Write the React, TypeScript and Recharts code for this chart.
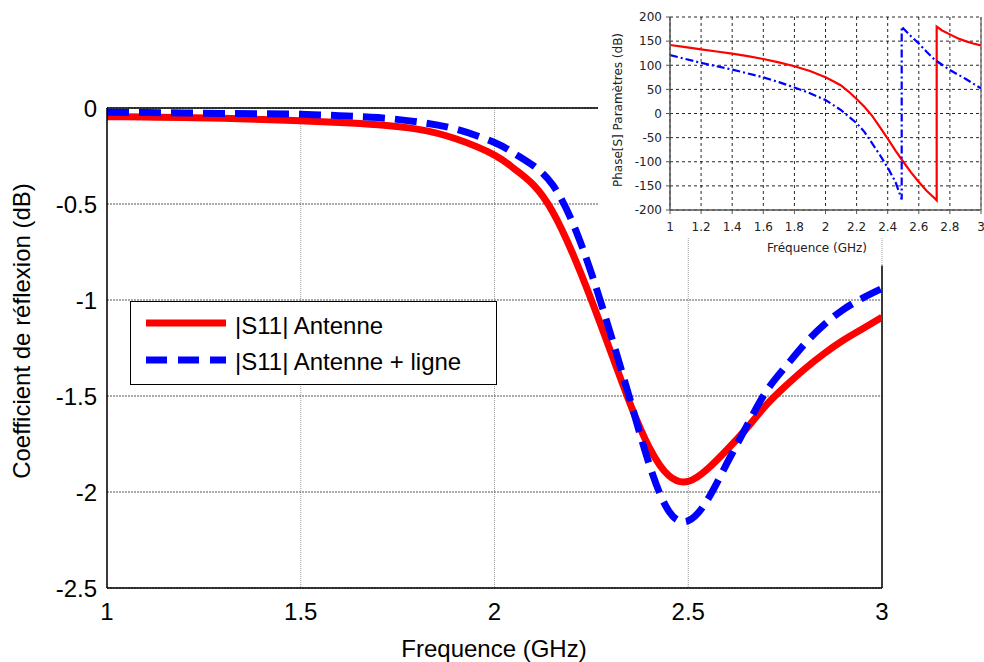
import { LineChart, Line, XAxis, YAxis, CartesianGrid, ReferenceLine, Legend, Label } from 'recharts';

// main plot : |S11| (dB)
const freq = [1.0, 1.1, 1.2, 1.3, 1.4, 1.5, 1.6, 1.7, 1.8, 1.9, 2.0, 2.05, 2.1, 2.15, 2.2, 2.25, 2.3, 2.35, 2.4, 2.45, 2.5, 2.55, 2.6, 2.65, 2.7, 2.75, 2.8, 2.85, 2.9, 2.95, 3.0];
const s11Antenne = [-0.045, -0.047, -0.05, -0.054, -0.06, -0.067, -0.075, -0.087, -0.11, -0.16, -0.245, -0.315, -0.4, -0.54, -0.75, -1.0, -1.27, -1.54, -1.77, -1.915, -1.945, -1.88, -1.78, -1.67, -1.55, -1.45, -1.36, -1.28, -1.21, -1.15, -1.09];
const s11Ligne = [-0.022, -0.024, -0.026, -0.028, -0.03, -0.033, -0.04, -0.05, -0.072, -0.11, -0.18, -0.235, -0.3, -0.4, -0.59, -0.86, -1.18, -1.52, -1.86, -2.1, -2.15, -2.04, -1.85, -1.66, -1.48, -1.35, -1.23, -1.13, -1.05, -0.99, -0.94];
const xTicks = [1, 1.5, 2, 2.5, 3];
const yTicks = [0, -0.5, -1, -1.5, -2, -2.5];

// inset : phase (deg), the jumps repeat the same frequency
const phaseFreqA = [1.0, 1.1, 1.2, 1.3, 1.4, 1.5, 1.6, 1.7, 1.8, 1.9, 2.0, 2.05, 2.1, 2.15, 2.2, 2.25, 2.3, 2.35, 2.4, 2.45, 2.5, 2.55, 2.6, 2.65, 2.7, 2.715, 2.715, 2.75, 2.8, 2.85, 2.9, 2.95, 3.0];
const phaseA = [142, 137.5, 133, 128.5, 124, 119, 113, 106, 98, 88, 75, 67, 58, 45, 30, 14, -5, -28, -52, -77, -100, -122, -142, -160, -175, -180, 180, 172, 164, 156, 150, 145, 141];
const phaseFreqB = [1.0, 1.1, 1.2, 1.3, 1.4, 1.5, 1.6, 1.7, 1.8, 1.9, 2.0, 2.1, 2.2, 2.25, 2.3, 2.35, 2.4, 2.45, 2.49, 2.49, 2.55, 2.6, 2.65, 2.7, 2.8, 2.9, 3.0];
const phaseB = [121, 113, 105, 98, 91, 83, 75, 65, 54, 42, 28, 7, -20, -38, -62, -86, -112, -142, -178, 180, 160, 145, 128, 112, 90, 72, 52];
const insetXTicks = [1, 1.2, 1.4, 1.6, 1.8, 2, 2.2, 2.4, 2.6, 2.8, 3];
const insetYTicks = [-200, -150, -100, -50, 0, 50, 100, 150, 200];

const seriesNames = ['|S11| Antenne', '|S11| Antenne + ligne'];

const mainData = freq.map((f, i) => ({ f, antenne: s11Antenne[i], ligne: s11Ligne[i] }));
const phaseDataA = phaseFreqA.map((f, i) => ({ f, phase: phaseA[i] }));
const phaseDataB = phaseFreqB.map((f, i) => ({ f, phase: phaseB[i] }));

const arial = 'Arial, "Liberation Sans", sans-serif';
const tahoma = 'Tahoma, "DejaVu Sans", sans-serif';

function LegendBox() {
  return (
    <div style={{ position: 'relative', width: 367, height: 84, border: '1.3px solid #000', background: '#fff', boxSizing: 'border-box', fontFamily: arial, fontSize: 24, color: '#000' }}>
      <svg width={100} height={84} style={{ position: 'absolute', left: 0, top: 0 }}>
        <line x1={15} x2={95} y1={21} y2={21} stroke="#ff0000" strokeWidth={7} />
        <line x1={15} x2={95} y1={58} y2={58} stroke="#0000ff" strokeWidth={7} strokeDasharray="21 11" />
      </svg>
      <div style={{ position: 'absolute', left: 104, top: 10, lineHeight: '28px', whiteSpace: 'nowrap' }}>{seriesNames[0]}</div>
      <div style={{ position: 'absolute', left: 104, top: 46, lineHeight: '28px', whiteSpace: 'nowrap' }}>{seriesNames[1]}</div>
    </div>
  );
}

export default function App() {
  return (
    <div style={{ position: 'absolute', left: 0, top: 0, width: 984, height: 662, background: '#fff' }}>
      <LineChart width={984} height={662} data={mainData} margin={{ top: 108, right: 102, bottom: 0, left: 0 }}>
        <CartesianGrid horizontal={false} stroke="#9a9a9a" strokeDasharray="1 1" />
        <CartesianGrid vertical={false} stroke="#555" strokeDasharray="2 1" />
        <XAxis
          dataKey="f"
          type="number"
          domain={[1, 3]}
          ticks={xTicks}
          allowDataOverflow
          height={74}
          axisLine={{ stroke: '#000', strokeWidth: 1.5 }}
          tickLine={false}
          tickSize={0}
          tickMargin={15}
          tick={{ fill: '#000', fontSize: 24, fontFamily: arial }}
        >
          <Label
            content={() => (
              <text x={494} y={657} textAnchor="middle" fontSize={24} fontFamily={arial} fill="#000">
                Frequence (GHz)
              </text>
            )}
          />
        </XAxis>
        <YAxis
          type="number"
          domain={[-2.5, 0]}
          ticks={yTicks}
          allowDataOverflow
          width={107}
          axisLine={{ stroke: '#000', strokeWidth: 1.5 }}
          tickLine={false}
          tickSize={0}
          tickMargin={10}
          tick={{ fill: '#000', fontSize: 24, fontFamily: arial }}
        >
          <Label
            content={() => (
              <text x={30} y={331} transform="rotate(-90 30 331)" textAnchor="middle" fontSize={24} fontFamily={arial} fill="#000">
                Coefficient de réflexion (dB)
              </text>
            )}
          />
        </YAxis>
        <ReferenceLine y={0} stroke="#000" strokeWidth={1.5} />
        <ReferenceLine segment={[{ x: 3, y: -0.82 }, { x: 3, y: -2.5 }]} stroke="#000" strokeWidth={1.5} />
        <Legend
          layout="vertical"
          align="center"
          verticalAlign="middle"
          wrapperStyle={{ position: 'absolute', left: 130, top: 301, width: 367, height: 84 }}
          content={() => <LegendBox />}
        />
        <Line type="natural" dataKey="antenne" name={seriesNames[0]} stroke="#ff0000" strokeWidth={7} dot={false} isAnimationActive={false} />
        <Line type="natural" dataKey="ligne" name={seriesNames[1]} stroke="#0000ff" strokeWidth={7} strokeDasharray="22 10" dot={false} isAnimationActive={false} />
      </LineChart>

      {/* inset : phase */}
      <div style={{ position: 'absolute', left: 598, top: 0, width: 386, height: 237, background: '#fff' }}>
        <LineChart width={386} height={262} margin={{ top: 17, right: 3, bottom: 0, left: 0 }} style={{ overflow: 'visible' }}>
          <CartesianGrid stroke="#000" strokeDasharray="3 3" strokeOpacity={0.85} />
          <XAxis
            dataKey="f"
            type="number"
            domain={[1, 3]}
            ticks={insetXTicks}
            allowDataOverflow
            height={52}
            axisLine={{ stroke: '#555', strokeWidth: 1.5 }}
            tickLine={{ stroke: '#555' }}
            tickSize={4}
            tickMargin={8}
            tickFormatter={(v) => String(+Number(v).toFixed(1))}
            tick={{ fill: '#222', fontSize: 12, fontFamily: tahoma }}
          >
            <Label
              content={() => (
                <text x={219} y={252} textAnchor="middle" fontSize={12} fontFamily={tahoma} fill="#222">
                  Fréquence (GHz)
                </text>
              )}
            />
          </XAxis>
          <YAxis
            type="number"
            domain={[-200, 200]}
            ticks={insetYTicks}
            allowDataOverflow
            width={72}
            axisLine={{ stroke: '#555', strokeWidth: 1.5 }}
            tickLine={{ stroke: '#555' }}
            tickSize={4}
            tickMargin={4}
            tick={{ fill: '#222', fontSize: 12, fontFamily: tahoma }}
          >
            <Label
              content={() => (
                <text x={24} y={110} transform="rotate(-90 24 110)" textAnchor="middle" fontSize={12} fontFamily={tahoma} fill="#222">
                  Phase[S] Paramètres (dB)
                </text>
              )}
            />
          </YAxis>
          <ReferenceLine x={3} stroke="#777" strokeWidth={1.5} />
          <Line data={phaseDataA} dataKey="phase" type="linear" stroke="#ff0000" strokeWidth={2.2} dot={false} isAnimationActive={false} />
          <Line data={phaseDataB} dataKey="phase" type="linear" stroke="#0000ff" strokeWidth={2.2} strokeDasharray="8 3 2 3" dot={false} isAnimationActive={false} />
        </LineChart>
      </div>
    </div>
  );
}
